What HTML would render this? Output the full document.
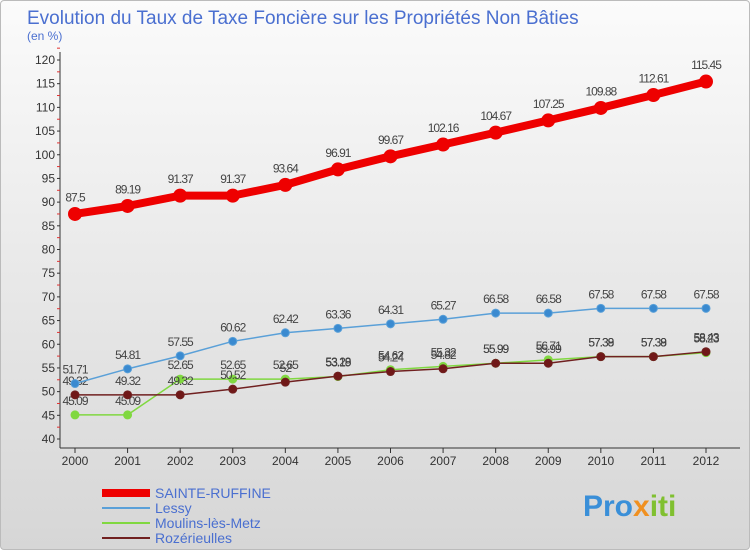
<!DOCTYPE html>
<html><head><meta charset="utf-8"><style>
body{margin:0;width:750px;height:550px;overflow:hidden;font-family:"Liberation Sans",sans-serif}
#wrap{position:relative;width:748px;height:548px;border:1px solid #bbb;background:linear-gradient(#fbfbfb,#d6d6d6);border-radius:4px}
</style></head><body>
<div id="wrap">
<svg id="c" width="750" height="550" style="position:absolute;left:-1px;top:-1px">
<text x="27" y="24" font-size="19" fill="#4a6fd0">Evolution du Taux de Taxe Foncière sur les Propriétés Non Bâties</text>
<text x="27" y="40" font-size="12" fill="#4a6fd0">(en %)</text>
<text x="583" y="516" font-size="30" font-weight="bold" fill="#3a8fd8">Pro<tspan fill="#f09020">x</tspan><tspan fill="#80c030">iti</tspan></text>
</svg>
</div>
<script>
const years=[2000,2001,2002,2003,2004,2005,2006,2007,2008,2009,2010,2011,2012];
const yTicks=[40,45,50,55,60,65,70,75,80,85,90,95,100,105,110,115,120];
const seriesNames=["SAINTE-RUFFINE","Lessy","Moulins-lès-Metz","Rozérieulles"];
const sainte=[87.5,89.19,91.37,91.37,93.64,96.91,99.67,102.16,104.67,107.25,109.88,112.61,115.45];
const lessy=[51.71,54.81,57.55,60.62,62.42,63.36,64.31,65.27,66.58,66.58,67.58,67.58,67.58];
const moulins=[45.09,45.09,52.65,52.65,52.65,53.19,54.62,55.32,55.99,56.71,57.39,57.39,58.23];
const roz=[49.32,49.32,49.32,50.52,52,53.28,54.24,54.82,55.99,55.99,57.38,57.38,58.43];
const svg=document.getElementById('c'),NS="http://www.w3.org/2000/svg";
const X=i=>75+i*(706-75)/(years.length-1);
const Y=v=>439-(v-40)*(439-60)/80;
function mk(t,a,p){const e=document.createElementNS(NS,t);for(const k in a)e.setAttribute(k,a[k]);(p||svg).appendChild(e);return e;}
let ax=mk('line',{x1:60,y1:52,x2:60,y2:448,stroke:'#333'});


let xa=mk('line',{x1:60,y1:448,x2:740,y2:448,stroke:'#333'});


yTicks.forEach(v=>{
 mk('line',{x1:57,x2:60,y1:Y(v),y2:Y(v),stroke:'#333'});
 mk('line',{x1:57,x2:60,y1:Y(v+2.5),y2:Y(v+2.5),stroke:'#e03030'});
 let t=mk('text',{x:55,y:Y(v)+4,'font-size':12,'text-anchor':'end',fill:'#333'});t.textContent=v;
 
 
});
years.forEach((y,i)=>{
 mk('line',{x1:X(i),x2:X(i),y1:448,y2:453,stroke:'#333'});
 let t=mk('text',{x:X(i),y:465,'font-size':12,'text-anchor':'middle',fill:'#333'});t.textContent=y;
 
 
});
function series(d,color,w,r,fill,name,labels){
 let g=mk('g',{});
 
 
 mk('polyline',{points:d.map((v,i)=>X(i)+','+Y(v)).join(' '),fill:'none',stroke:color,'stroke-width':w,'stroke-linejoin':'round'},g);
 d.forEach((v,i)=>{
  let c=mk('circle',{cx:X(i),cy:Y(v),r:r,fill:fill,stroke:color,'stroke-width':1},g);
  
  
  if(labels){let t=mk('text',{x:X(i),y:Y(v)-(r+6),'font-size':12,'text-anchor':'middle',fill:'#444','letter-spacing':'-1'},g);t.textContent=v;
  
  }
 });
}
series(moulins,'#80d840',1.5,4,'#80d840','series-moulins',true);
series(roz,'#702020',1.5,4,'#701818','series-rozerieulles',true);
series(lessy,'#5aa0d8',1.5,4,'#3a8ad0','series-lessy',true);
series(sainte,'#ee0000',8,6.5,'#ee0000','series-sainte-ruffine',true);
const legC=['#ee0000','#5aa0d8','#80d840','#702020'],legW=[8,2,2,2];
seriesNames.forEach((n,i)=>{
 let y=493+i*15;
 let g=mk('g',{});
 
 
 mk('line',{x1:102,x2:150,y1:y,y2:y,stroke:legC[i],'stroke-width':legW[i]},g);
 let t=mk('text',{x:155,y:y+5,'font-size':14,fill:'#4a6fd0'},g);t.textContent=n;
});
</script>
</body></html>
